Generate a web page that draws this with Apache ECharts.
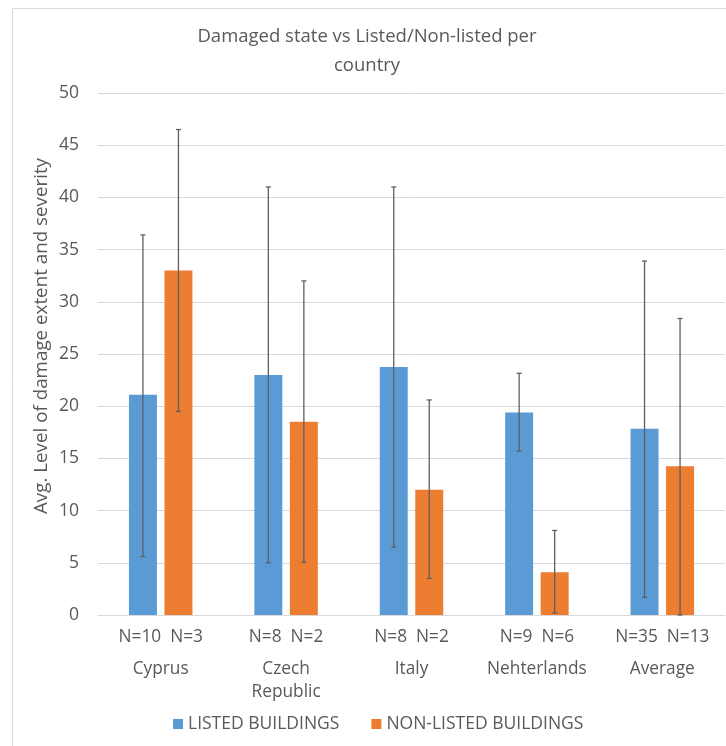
<!DOCTYPE html>
<html>
<head>
<meta charset="utf-8">
<script src="https://cdn.jsdelivr.net/npm/echarts@6/dist/echarts.min.js"></script>
<style>html,body{margin:0;padding:0;background:#fff}#c{width:726px;height:746px}</style>
</head>
<body>
<div id="c"></div>
<script>
var categories = ['Cyprus', 'Czech\nRepublic', 'Italy', 'Nehterlands', 'Average'];
var listedN = [10, 8, 8, 9, 35];
var nonListedN = [3, 2, 2, 6, 13];
var listedValues = [21.1, 23.0, 23.75, 19.4, 17.85];
var nonListedValues = [33.0, 18.5, 12.0, 4.1, 14.25];
var listedErrLow = [5.6, 5.0, 6.5, 15.7, 1.7];
var listedErrHigh = [36.4, 41.0, 41.0, 23.15, 33.9];
var nonListedErrLow = [19.5, 5.05, 3.5, 0.2, 0.0];
var nonListedErrHigh = [46.5, 32.0, 20.6, 8.1, 28.4];
var yTicks = [0, 5, 10, 15, 20, 25, 30, 35, 40, 45, 50];

var FONT = 'Open Sans';
var TXT = '#595959';
var BAR_FRAC = 0.223, GAP_FRAC = 0.27;

function errSeries(low, high, side) {
  var data = low.map(function (l, i) { return [i, l, high[i]]; });
  return {
    type: 'custom',
    silent: true,
    z: 10,
    data: data,
    encode: { x: 0, y: [1, 2] },
    renderItem: function (params, api) {
      var i = api.value(0);
      var p1 = api.coord([i, api.value(1)]);
      var p2 = api.coord([i, api.value(2)]);
      var band = api.size([1, 0])[0];
      var bw = band * BAR_FRAC;
      var off = side * (bw + bw * GAP_FRAC) / 2;
      var x = p1[0] + off;
      var cap = 2.5;
      var st = { stroke: '#5f5f5f', lineWidth: 1.3 };
      return {
        type: 'group',
        children: [
          { type: 'line', shape: { x1: x, y1: p1[1], x2: x, y2: p2[1] }, style: st },
          { type: 'line', shape: { x1: x - cap, y1: p1[1], x2: x + cap, y2: p1[1] }, style: st },
          { type: 'line', shape: { x1: x - cap, y1: p2[1], x2: x + cap, y2: p2[1] }, style: st }
        ]
      };
    }
  };
}

var chart = echarts.init(document.getElementById('c'), null, { renderer: 'canvas' });
chart.setOption({
  animation: false,
  backgroundColor: '#ffffff',
  textStyle: { fontFamily: FONT },
  title: {
    text: 'Damaged state vs Listed/Non-listed per\ncountry',
    left: 362, top: 17, textAlign: 'center',
    textStyle: { fontFamily: FONT, fontSize: 18.5, fontWeight: 'normal', color: TXT, lineHeight: 29 }
  },
  graphic: [
    { type: 'rect', shape: { x: 12.5, y: 8.5, width: 800, height: 800 }, style: { fill: null, stroke: '#d9d9d9', lineWidth: 1 }, silent: true },
    { type: 'text', x: 42, y: 336, rotation: Math.PI / 2,
      style: { text: 'Avg. Level of damage extent and severity', fontFamily: FONT, fontSize: 18.8, fill: TXT, align: 'center', verticalAlign: 'middle' } }
  ],
  legend: {
    bottom: 8, left: 168, itemWidth: 10, itemHeight: 10, itemGap: 32,
    icon: 'rect',
    textStyle: { fontFamily: FONT, fontSize: 17.5, color: TXT },
    data: ['LISTED BUILDINGS', 'NON-LISTED BUILDINGS']
  },
  grid: { left: 98, right: 1, top: 93, bottom: 131, containLabel: false },
  xAxis: {
    type: 'category',
    data: categories,
    axisLine: { lineStyle: { color: '#d9d9d9' } },
    axisTick: { show: false },
    axisLabel: {
      margin: 1, interval: 0, color: TXT,
      formatter: function (v, i) {
        var parts = v.split('\n');
        var s = '{n|N=' + listedN[i] + '  N=' + nonListedN[i] + '}';
        parts.forEach(function (p) { s += '\n{c|' + p + '}'; });
        return s;
      },
      rich: {
        n: { fontFamily: FONT, fontSize: 17.3, color: TXT, lineHeight: 42 },
        c: { fontFamily: FONT, fontSize: 17.3, color: TXT, lineHeight: 23 }
      }
    }
  },
  yAxis: {
    type: 'value', min: 0, max: 50, interval: 5,
    axisLine: { show: false }, axisTick: { show: false },
    splitLine: { lineStyle: { color: '#d9d9d9', width: 1 } },
    axisLabel: { color: TXT, fontSize: 17.5, fontFamily: FONT, margin: 19,
      formatter: function (v) { return yTicks.indexOf(v) >= 0 ? String(v) : ''; } }
  },
  series: [
    { name: 'LISTED BUILDINGS', type: 'bar', data: listedValues, barWidth: (BAR_FRAC * 100) + '%', barGap: (GAP_FRAC * 100) + '%',
      itemStyle: { color: '#5b9bd5' } },
    { name: 'NON-LISTED BUILDINGS', type: 'bar', data: nonListedValues, barWidth: (BAR_FRAC * 100) + '%', barGap: (GAP_FRAC * 100) + '%',
      itemStyle: { color: '#ed7d31' } },
    errSeries(listedErrLow, listedErrHigh, -1),
    errSeries(nonListedErrLow, nonListedErrHigh, 1)
  ]
});
</script>
</body>
</html>
